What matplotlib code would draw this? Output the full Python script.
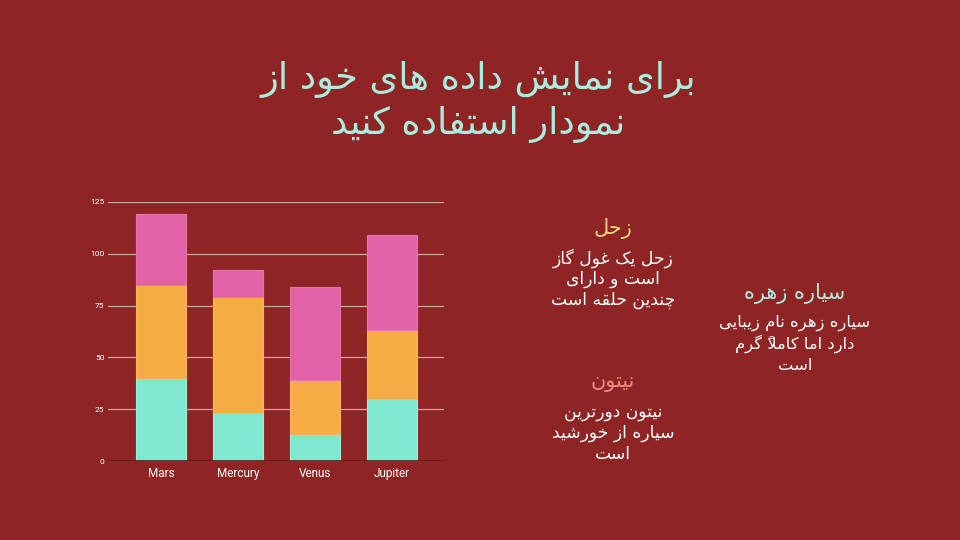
import matplotlib
matplotlib.use("Agg")
import matplotlib.pyplot as plt
import numpy as np

# ---------------- data ----------------
categories = ["Mars", "Mercury", "Venus", "Jupiter"]
series_green = [40, 23, 13, 30]
series_orange = [45, 56, 26, 33]
series_pink = [34, 13, 45, 46]
y_ticks = [0, 25, 50, 75, 100, 125]

title_lines = ["برای نمایش داده های خود از", "نمودار استفاده کنید"]
saturn_title = "زحل"
saturn_body = ["زحل یک غول گاز", "است و دارای", "چندین حلقه است"]
venus_title = "سیاره زهره"
venus_body = ["سیاره زهره نام زیبایی", "دارد اما کاملاً گرم", "است"]
neptune_title = "نیتون"
neptune_body = ["نیتون دورترین", "سیاره از خورشید", "است"]

# ---------------- simple Arabic/Persian shaping ----------------
# (isolated, final, initial, medial); initial None => right-joining only
FORMS = {
    '\u0627': ('\uFE8D', '\uFE8E', None, None),
    '\u0628': ('\uFE8F', '\uFE90', '\uFE91', '\uFE92'),
    '\u062A': ('\uFE95', '\uFE96', '\uFE97', '\uFE98'),
    '\u062B': ('\uFE99', '\uFE9A', '\uFE9B', '\uFE9C'),
    '\u062C': ('\uFE9D', '\uFE9E', '\uFE9F', '\uFEA0'),
    '\u062D': ('\uFEA1', '\uFEA2', '\uFEA3', '\uFEA4'),
    '\u062E': ('\uFEA5', '\uFEA6', '\uFEA7', '\uFEA8'),
    '\u062F': ('\uFEA9', '\uFEAA', None, None),
    '\u0630': ('\uFEAB', '\uFEAC', None, None),
    '\u0631': ('\uFEAD', '\uFEAE', None, None),
    '\u0632': ('\uFEAF', '\uFEB0', None, None),
    '\u0633': ('\uFEB1', '\uFEB2', '\uFEB3', '\uFEB4'),
    '\u0634': ('\uFEB5', '\uFEB6', '\uFEB7', '\uFEB8'),
    '\u0635': ('\uFEB9', '\uFEBA', '\uFEBB', '\uFEBC'),
    '\u0636': ('\uFEBD', '\uFEBE', '\uFEBF', '\uFEC0'),
    '\u0637': ('\uFEC1', '\uFEC2', '\uFEC3', '\uFEC4'),
    '\u0638': ('\uFEC5', '\uFEC6', '\uFEC7', '\uFEC8'),
    '\u0639': ('\uFEC9', '\uFECA', '\uFECB', '\uFECC'),
    '\u063A': ('\uFECD', '\uFECE', '\uFECF', '\uFED0'),
    '\u0641': ('\uFED1', '\uFED2', '\uFED3', '\uFED4'),
    '\u0642': ('\uFED5', '\uFED6', '\uFED7', '\uFED8'),
    '\u0643': ('\uFED9', '\uFEDA', '\uFEDB', '\uFEDC'),
    '\u0644': ('\uFEDD', '\uFEDE', '\uFEDF', '\uFEE0'),
    '\u0645': ('\uFEE1', '\uFEE2', '\uFEE3', '\uFEE4'),
    '\u0646': ('\uFEE5', '\uFEE6', '\uFEE7', '\uFEE8'),
    '\u0647': ('\uFEE9', '\uFEEA', '\uFEEB', '\uFEEC'),
    '\u0648': ('\uFEED', '\uFEEE', None, None),
    '\u0649': ('\uFEEF', '\uFEF0', None, None),
    '\u064A': ('\uFEF1', '\uFEF2', '\uFEF3', '\uFEF4'),
    '\u067E': ('\uFB56', '\uFB57', '\uFB58', '\uFB59'),
    '\u0686': ('\uFB7A', '\uFB7B', '\uFB7C', '\uFB7D'),
    '\u0698': ('\uFB8A', '\uFB8B', None, None),
    '\u06A9': ('\uFB8E', '\uFB8F', '\uFB90', '\uFB91'),
    '\u06AF': ('\uFB92', '\uFB93', '\uFB94', '\uFB95'),
    '\u06CC': ('\uFBFC', '\uFBFD', '\uFBFE', '\uFBFF'),
}


def _is_mark(c):
    return '\u064B' <= c <= '\u065F' or c == '\u0670'


def shape(text):
    chars = list(text)
    n = len(chars)
    clusters = []
    skip = set()
    for i, c in enumerate(chars):
        if i in skip:
            continue
        if _is_mark(c):
            if clusters:
                clusters[-1] += c
            else:
                clusters.append(c)
            continue
        if c not in FORMS:
            clusters.append(c)
            continue
        j = i - 1
        while j >= 0 and _is_mark(chars[j]):
            j -= 1
        prev = chars[j] if j >= 0 else None
        k = i + 1
        while k < n and _is_mark(chars[k]):
            k += 1
        nxt = chars[k] if k < n else None
        join_prev = prev in FORMS and FORMS[prev][2] is not None
        if c == '\u0644' and nxt == '\u0627':
            clusters.append('\uFEFC' if join_prev else '\uFEFB')
            skip.add(k)
            continue
        join_next = FORMS[c][2] is not None and nxt in FORMS
        iso, fin, ini, med = FORMS[c]
        if join_prev and join_next:
            g = med
        elif join_prev:
            g = fin
        elif join_next:
            g = ini
        else:
            g = iso
        clusters.append(g)
    # visual order: clusters reversed, marks placed before their base
    return "".join(cl[::-1] for cl in reversed(clusters))


# ---------------- figure ----------------
BG = "#8E2424"
W, H = 960, 540
fig = plt.figure(figsize=(9.6, 5.4), dpi=100, facecolor=BG)

AR = ["DejaVu Sans"]


def px(x, y):
    return x / W, 1 - y / H


# title
for i, line in enumerate(title_lines):
    fig.text(*px(478, 80 + i * 44), shape(line), ha="center", va="center",
             color="#A8EDDF", fontsize=26.5, family=AR)


def block(x, y0, title, tcolor, body, bsize=12.3):
    fig.text(*px(x, y0), shape(title), ha="center", va="center",
             color=tcolor, fontsize=15, family=AR)
    for i, line in enumerate(body):
        fig.text(*px(x, y0 + 30 + i * 21), shape(line), ha="center",
                 va="center", color="white", fontsize=bsize, family=AR)


block(613, 228, saturn_title, "#F7D27A", saturn_body)
block(795, 293, venus_title, "#A8EDDF", venus_body, 11.8)
block(613, 382, neptune_title, "#F08A80", neptune_body)

# chart
ax = fig.add_axes([108 / W, 1 - 461 / H, 336 / W, 259 / H])
ax.set_facecolor(BG)
x = np.arange(len(categories))
bw = 0.65
green = np.array(series_green)
orange = np.array(series_orange)
pink = np.array(series_pink)
ax.bar(x, green, bw, color="#80E8D0", edgecolor="#9AF0DC", linewidth=0.8, zorder=3)
ax.bar(x, orange, bw, bottom=green, color="#F6AC45", edgecolor="#F8B95E",
       linewidth=0.8, zorder=3)
ax.bar(x, pink, bw, bottom=green + orange, color="#E262A8", edgecolor="#E874B4",
       linewidth=0.8, zorder=3)

ax.set_xlim(-0.69, 3.68)
ax.set_ylim(0, 125)
ax.set_yticks(y_ticks)
ax.set_yticklabels([str(v) for v in y_ticks])
ax.set_xticks(x)
ax.set_xticklabels(categories)
ax.grid(axis="y", color="#CFA5A5", linewidth=0.9, zorder=1)
ax.axhline(0, color="#5A1A1A", linewidth=1.2, zorder=4)
for s in ax.spines.values():
    s.set_visible(False)
ax.tick_params(axis="y", length=0, pad=2.5, labelsize=6, labelcolor="white")
ax.tick_params(axis="x", length=0, pad=4, labelsize=8.5, labelcolor="white")
for lab in ax.get_xticklabels() + ax.get_yticklabels():
    lab.set_family("Roboto")

fig.savefig("out.png", dpi=100, facecolor=BG)
